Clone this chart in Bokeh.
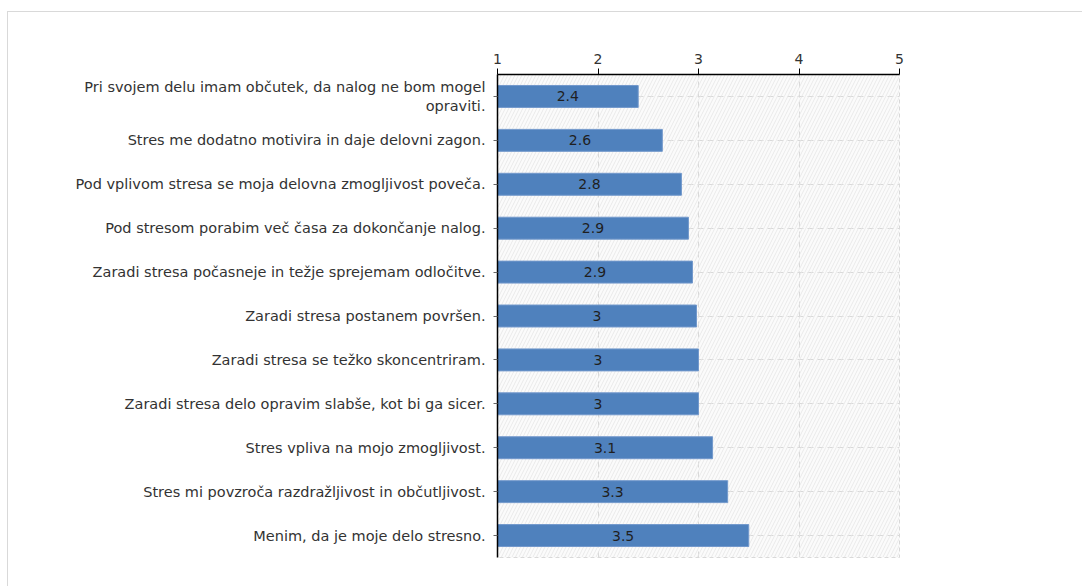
from bokeh.plotting import figure
from bokeh.models import ColumnDataSource, FactorRange, Range1d, FixedTicker
from bokeh.core.properties import value
from bokeh.embed import file_html
from bokeh.resources import INLINE

categories = [
    "Pri svojem delu imam občutek, da nalog ne bom mogel\nopraviti.",
    "Stres me dodatno motivira in daje delovni zagon.",
    "Pod vplivom stresa se moja delovna zmogljivost poveča.",
    "Pod stresom porabim več časa za dokončanje nalog.",
    "Zaradi stresa počasneje in težje sprejemam odločitve.",
    "Zaradi stresa postanem površen.",
    "Zaradi stresa se težko skoncentriram.",
    "Zaradi stresa delo opravim slabše, kot bi ga sicer.",
    "Stres vpliva na mojo zmogljivost.",
    "Stres mi povzroča razdražljivost in občutljivost.",
    "Menim, da je moje delo stresno.",
]
values = [2.40, 2.64, 2.83, 2.90, 2.94, 2.98, 3.00, 3.00, 3.14, 3.29, 3.50]
x_ticks = [1, 2, 3, 4, 5]

labels = ["%g" % round(v, 1) for v in values]
src = ColumnDataSource(dict(
    cat=categories, val=values, left=[1] * len(values),
    mid=[(1 + v) / 2 for v in values], lab=labels,
))

FONT = "DejaVu Sans"

p = figure(
    width=1075, height=575,
    y_range=FactorRange(factors=categories[::-1]),
    x_range=Range1d(1, 5),
    x_axis_location="above",
    output_backend="svg", toolbar_location=None,
    min_border_left=489, min_border_right=184,
    min_border_top=62, min_border_bottom=30,
)
p.styles = {"margin-left": "7px", "margin-top": "11px",
            "border-left": "1px solid #d9d9d9", "border-top": "1px solid #d9d9d9"}

p.background_fill_color = "#fbfbfb"
p.border_fill_color = "white"
p.outline_line_color = "#d8d8d8"
p.outline_line_dash = "4 3"

# hatched background of the plot area
p.quad(left=1, right=5, bottom=0, top=len(categories), fill_color=None,
       line_color=None, hatch_pattern="/", hatch_color="#e6e6e6",
       hatch_scale=7, hatch_weight=0.8)

p.xgrid.grid_line_color = "#d9d9d9"
p.xgrid.grid_line_dash = "6 4"
p.ygrid.grid_line_color = "#d9d9d9"
p.ygrid.grid_line_dash = "6 4"

p.hbar(y="cat", left="left", right="val", height=0.5, source=src,
       fill_color="#4F81BD", line_color="#7399cc", line_width=1)
p.text(x="mid", y="cat", text="lab", source=src, text_align="center",
       text_baseline="middle", text_font=value(FONT), text_font_size="14px",
       text_color="#1f1f1f")

xa = p.xaxis[0]
xa.ticker = FixedTicker(ticks=x_ticks)
xa.axis_line_color = "black"
xa.axis_line_width = 1.5
xa.major_tick_out = 6
xa.major_tick_in = 0
xa.major_tick_line_color = "black"
xa.minor_tick_line_color = None
xa.major_label_text_font = FONT
xa.major_label_text_font_size = "14px"
xa.major_label_text_color = "#333333"
xa.major_label_standoff = 5

ya = p.yaxis[0]
ya.axis_line_color = "black"
ya.axis_line_width = 1.5
ya.major_tick_out = 4
ya.major_tick_in = 0
ya.major_tick_line_color = "#666666"
ya.major_label_text_font = FONT
ya.major_label_text_font_size = "14.5px"
ya.major_label_text_color = "#333333"
ya.major_label_text_align = "right"
ya.major_label_standoff = 8

open("out.html", "w").write(file_html(p, INLINE))
